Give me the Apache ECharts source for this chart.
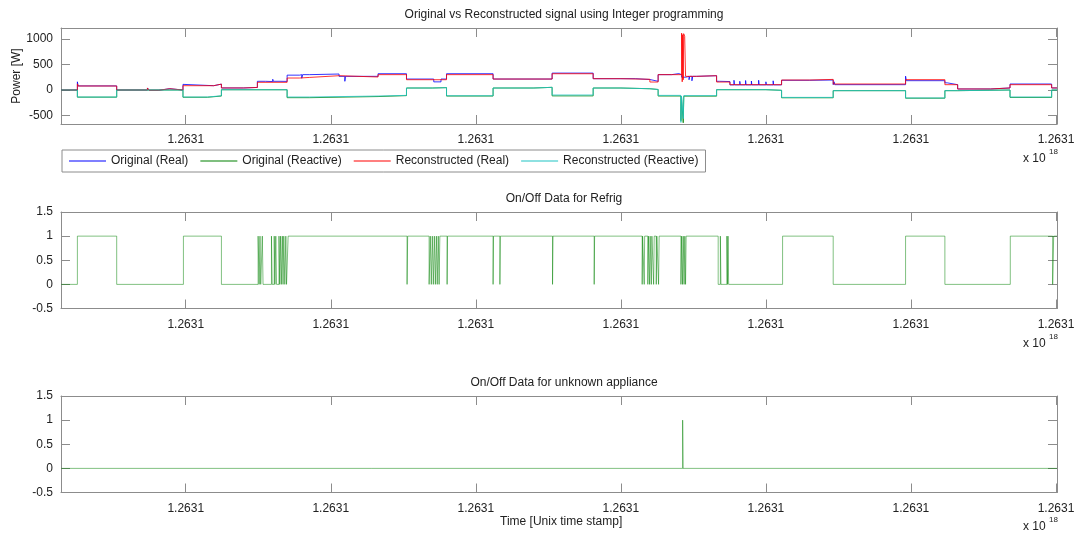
<!DOCTYPE html>
<html>
<head>
<meta charset="utf-8">
<title>Original vs Reconstructed signal</title>
<script src="https://cdn.jsdelivr.net/npm/echarts@6/dist/echarts.min.js"></script>
<style>
  html, body { margin: 0; padding: 0; background: #fff; }
  #main { width: 1078px; height: 533px; }
</style>
</head>
<body>
<div id="main"></div>
<script>
// x is time in units of 1e13 ns from a round start, ticks are all shown as 1.2631 (x 10^18)
var xTicks = [1, 2, 3, 4, 5, 6, 7];
var xTickLabel = '1.2631';
var xMin = 0.14, xMax = 7.007;
var powerTicks = [-500, 0, 500, 1000];
var onOffTicks = [-0.5, 0, 0.5, 1, 1.5];

var seriesNames = ['Original (Real)', 'Original (Reactive)', 'Reconstructed (Real)', 'Reconstructed (Reactive)'];

// [time, W] step points
var origReal = [[0.14,0],[0.253,160],[0.258,80],[0.524,0],[0.736,40],[0.747,-5],[0.814,25],[0.890,0],[0.981,110],[0.986,84],[1.193,115],[1.246,40],[1.40,50],[1.494,170],[1.55,200],[1.553,165],[1.60,210],[1.603,170],[1.65,195],[1.653,168],[1.699,290],[1.786,300],[1.80,230],[1.806,300],[1.855,312],[2.057,267],[2.097,170],[2.101,267],[2.326,318],[2.522,214],[2.71,159],[2.76,214],[2.798,318],[3.119,214],[3.526,330],[3.809,221],[4.10,205],[4.200,170],[4.257,300],[4.35,320],[4.40,300],[4.419,250],[4.448,267],[4.47,200],[4.475,267],[4.49,180],[4.495,267],[4.522,279],[4.660,170],[4.68,200],[4.685,165],[4.752,100],[4.78,190],[4.783,100],[4.82,170],[4.823,100],[4.86,185],[4.863,100],[4.90,175],[4.903,100],[4.95,190],[4.953,100],[5.00,160],[5.003,100],[5.05,180],[5.053,100],[5.108,190],[5.303,195],[5.464,104],[5.47,160],[5.475,104],[5.963,270],[5.968,182],[6.234,140],[6.25,104],[6.322,20],[6.55,40],[6.683,117],[6.970,40],[7.007,40]];
var origReactive = [[0.14,0],[0.253,-140],[0.524,0],[0.981,-142],[1.15,-118],[1.246,5],[1.699,-150],[1.855,-128],[2.326,-110],[2.522,39],[2.7,46],[2.798,-118],[3.119,39],[3.4,52],[3.526,-115],[3.809,39],[4.0,25],[4.2,10],[4.257,-118],[4.414,-600],[4.418,-130],[4.430,-640],[4.434,-120],[4.660,6],[5.0,-6],[5.108,-152],[5.464,-13],[5.963,-160],[6.234,-13],[6.322,0],[6.683,-145],[6.970,0],[7.007,0]];
var reconReal = [[0.14,0],[0.253,120],[0.258,78],[0.524,0],[0.736,40],[0.747,-5],[0.814,25],[0.890,0],[0.981,84],[1.193,115],[1.246,40],[1.40,50],[1.494,150],[1.699,234],[1.786,246],[1.855,279],[2.057,254],[2.326,300],[2.522,201],[2.798,300],[3.119,214],[3.526,318],[3.809,221],[4.0,210],[4.200,156],[4.257,300],[4.419,1110],[4.423,160],[4.426,1080],[4.430,200],[4.433,1100],[4.440,1050],[4.446,267],[4.522,279],[4.660,156],[4.752,104],[5.108,195],[5.303,207],[5.464,117],[5.963,202],[6.234,104],[6.322,20],[6.55,40],[6.683,104],[6.970,40],[7.007,40]];
var reconReactive = [[0.14,0],[0.253,-137],[0.524,0],[0.981,-137],[1.15,-113],[1.246,5],[1.699,-137],[1.855,-118],[2.326,-105],[2.522,39],[2.7,46],[2.798,-112],[3.119,39],[3.4,52],[3.526,-98],[3.809,39],[4.0,25],[4.2,10],[4.257,-105],[4.414,-633],[4.418,-120],[4.430,-560],[4.434,-110],[4.660,6],[5.0,-6],[5.108,-144],[5.464,-13],[5.963,-156],[6.234,-13],[6.322,0],[6.683,-137],[6.970,0],[7.007,0]];

// [time, on/off]
var refrigOnOff = [[0.14,0],[0.253,1],[0.524,0],[0.984,1],[1.246,0],
  [1.499,1],[1.506,0],[1.512,1],[1.517,0],[1.528,1],[1.533,0],
  [1.591,1],[1.596,0],[1.610,1],[1.615,0],[1.621,1],[1.626,0],
  [1.643,1],[1.648,0],[1.654,1],[1.659,0],[1.666,1],[1.671,0],[1.676,1],[1.683,0],[1.690,1],[1.695,0],[1.706,1],
  [2.526,0],[2.530,1],
  [2.678,0],[2.686,1],[2.693,0],[2.700,1],[2.707,0],[2.714,1],[2.721,0],[2.728,1],[2.734,0],[2.741,1],[2.747,0],[2.752,1],
  [2.802,0],[2.805,1],[3.119,0],[3.122,1],[3.166,0],[3.169,1],[3.529,0],[3.532,1],[3.816,0],[3.819,1],
  [4.147,0],[4.150,1],[4.161,0],[4.164,1],[4.186,0],[4.190,1],[4.198,0],[4.202,1],[4.210,0],[4.214,1],[4.226,0],[4.230,1],[4.244,0],[4.248,1],[4.260,0],[4.264,1],
  [4.414,0],[4.419,1],[4.425,0],[4.430,1],[4.436,0],[4.441,1],[4.446,0],[4.450,1],
  [4.671,0],[4.686,1],[4.690,0],[4.731,1],[4.735,0],[4.739,1],[4.743,0],
  [5.115,1],[5.464,0],[5.963,1],[6.234,0],[6.685,1],[6.977,0],[6.984,1],[7.007,1]];
var unknownOnOff = [[0.14,0],[4.426,1],[4.429,0],[7.007,0]];

var font = 'Liberation Sans, Arial, Helvetica, sans-serif';
var boxColor = '#8c8c8c';
var textColor = '#222';

var grids = [
  { left: 61, right: 21, top: 28, height: 96, outerBoundsMode: 'none', containLabel: false },
  { left: 61, right: 21, top: 212, height: 96.5, outerBoundsMode: 'none', containLabel: false },
  { left: 61, right: 21, top: 396, height: 96.5, outerBoundsMode: 'none', containLabel: false }
];

function xAxes(i) {
  var base = {
    gridIndex: i, type: 'value', min: xMin, max: xMax,
    axisLine: { show: true, onZero: false, lineStyle: { color: boxColor, width: 1 } },
    axisTick: { inside: true, length: 9, customValues: xTicks, lineStyle: { color: boxColor } },
    splitLine: { show: false }
  };
  var bottom = Object.assign({}, base, {
    position: 'bottom',
    axisLabel: { customValues: xTicks, formatter: function () { return xTickLabel; },
                 margin: 10, color: textColor, fontSize: 12, fontFamily: font }
  });
  var top = Object.assign({}, base, { position: 'top', axisLabel: { show: false } });
  return [bottom, top];
}

function yAxes(i, min, max, ticks, name) {
  var base = {
    gridIndex: i, type: 'value', min: min, max: max,
    axisLine: { show: true, onZero: false, lineStyle: { color: boxColor, width: 1 } },
    axisTick: { inside: true, length: 9, customValues: ticks, lineStyle: { color: boxColor } },
    splitLine: { show: false }
  };
  var left = Object.assign({}, base, {
    position: 'left',
    axisLabel: { customValues: ticks, margin: 8, color: textColor, fontSize: 12, fontFamily: font,
                 formatter: function (v) { return String(v); } }
  });
  if (name) {
    left.name = name; left.nameLocation = 'middle'; left.nameGap = 38; left.nameRotate = 90;
    left.nameMoveOverlap = false;
    left.nameTextStyle = { color: textColor, fontSize: 12, fontFamily: font };
  }
  var right = Object.assign({}, base, { position: 'right', axisLabel: { show: false } });
  return [left, right];
}

function stepLine(name, data, color, width, gi) {
  return {
    name: name, type: 'line', data: data, step: 'end', symbol: 'none', showSymbol: false,
    xAxisIndex: gi * 2, yAxisIndex: gi * 2,
    lineStyle: { color: color, width: width }, itemStyle: { color: color },
    silent: true
  };
}

var exponentY = [160, 345, 528];
var graphics = [];
exponentY.forEach(function (y) {
  graphics.push({ type: 'text', left: 1023, top: y - 7, style: { text: 'x 10', fill: textColor, font: '12px ' + font } });
  graphics.push({ type: 'text', left: 1049, top: y - 12, style: { text: '18', fill: textColor, font: '8px ' + font } });
});
graphics.push({ type: 'text', left: 500, top: 516, style: { text: 'Time [Unix time stamp]', fill: textColor, font: '12px ' + font } });

var option = {
  backgroundColor: '#fff',
  animation: false,
  title: [
    { text: 'Original vs Reconstructed signal using Integer programming', left: 559, top: 4, textAlign: 'center',
      textStyle: { fontSize: 12, fontWeight: 'normal', color: textColor, fontFamily: font } },
    { text: 'On/Off Data for Refrig', left: 559, top: 188, textAlign: 'center',
      textStyle: { fontSize: 12, fontWeight: 'normal', color: textColor, fontFamily: font } },
    { text: 'On/Off Data for unknown appliance', left: 559, top: 372, textAlign: 'center',
      textStyle: { fontSize: 12, fontWeight: 'normal', color: textColor, fontFamily: font } }
  ],
  legend: {
    data: seriesNames, left: 62, top: 150, icon: 'rect', itemWidth: 37, itemHeight: 1, itemGap: 12,
    padding: [5, 7], borderColor: boxColor, borderWidth: 1, selectedMode: false,
    textStyle: { color: textColor, fontSize: 12, fontFamily: font }
  },
  grid: grids,
  xAxis: xAxes(0).concat(xAxes(1), xAxes(2)),
  yAxis: yAxes(0, -664, 1211, powerTicks, 'Power [W]')
    .concat(yAxes(1, -0.5, 1.5, onOffTicks), yAxes(2, -0.5, 1.5, onOffTicks)),
  graphic: graphics,
  series: [
    stepLine(seriesNames[0], origReal, '#0000ff', 0.8, 0),
    stepLine(seriesNames[1], origReactive, '#008000', 0.8, 0),
    stepLine(seriesNames[2], reconReal, '#ff0000', 0.8, 0),
    stepLine(seriesNames[3], reconReactive, '#1fc4c4', 0.8, 0),
    stepLine('Refrig', refrigOnOff, '#008000', 0.5, 1),
    stepLine('Unknown', unknownOnOff, '#008000', 0.5, 2)
  ]
};

var myChart = echarts.init(document.getElementById('main'), null, { renderer: 'canvas' });
myChart.setOption(option);
</script>
</body>
</html>
